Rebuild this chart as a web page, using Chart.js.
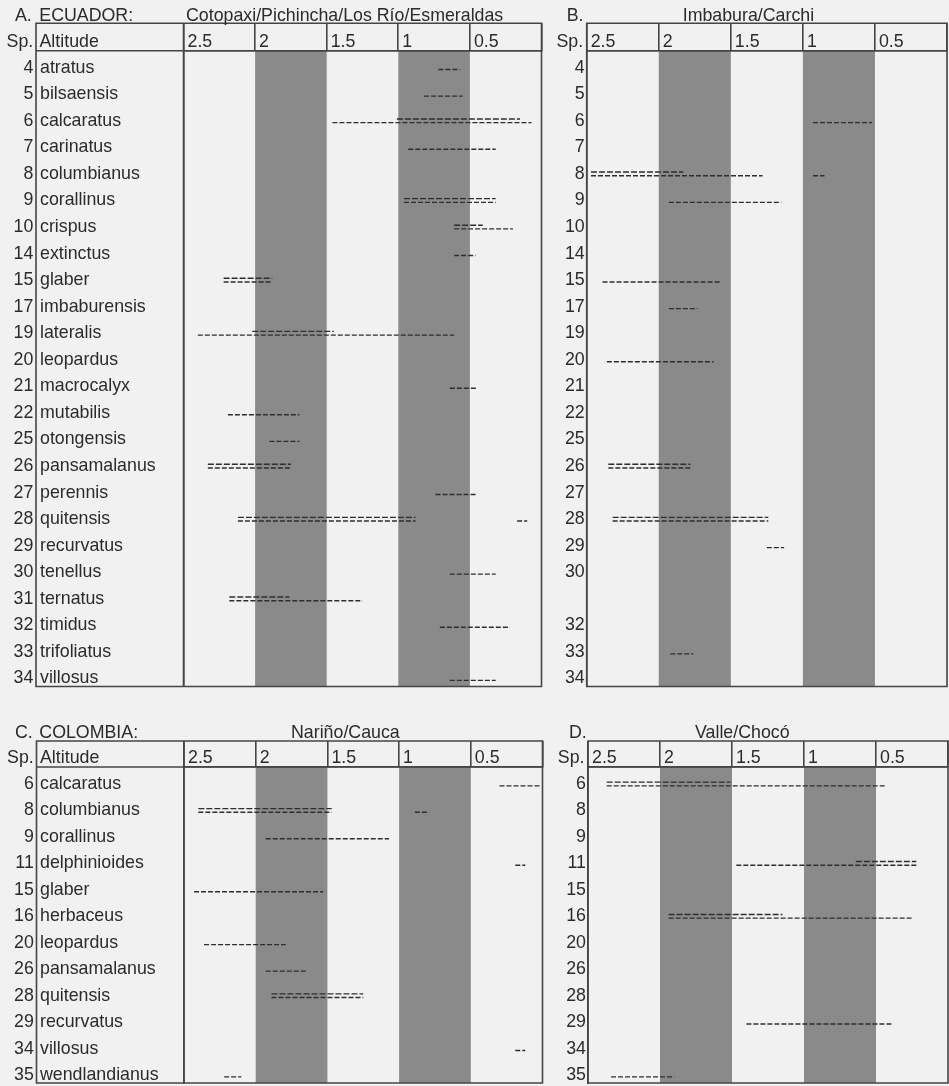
<!DOCTYPE html>
<html>
<head>
<meta charset="utf-8">
<script src="https://cdn.jsdelivr.net/npm/chart.js@4.4.1/dist/chart.umd.min.js"></script>
<style>
  html, body { margin: 0; padding: 0; background: #f1f1f1; }
  #wrap { position: relative; width: 949px; height: 1086px; overflow: hidden; background: #f1f1f1; }
  .pan { position: absolute; }
  canvas { display: block; }
</style>
</head>
<body>
<div id="wrap">
  <div class="pan" style="left:0;top:0;"><canvas id="cA" width="546" height="700"></canvas></div>
  <div class="pan" style="left:546px;top:0;"><canvas id="cB" width="403" height="700"></canvas></div>
  <div class="pan" style="left:0;top:715px;"><canvas id="cC" width="546" height="371"></canvas></div>
  <div class="pan" style="left:546px;top:715px;"><canvas id="cD" width="403" height="371"></canvas></div>
</div>
<script>
// ---------------- DATA ----------------
const altitudeTicks = [2.5, 2, 1.5, 1, 0.5];          // km
const shadedBands = [[2, 1.5], [1, 0.5]];             // km

const ecuadorNames = ['atratus','bilsaensis','calcaratus','carinatus','columbianus','corallinus','crispus','extinctus','glaber','imbaburensis','lateralis','leopardus','macrocalyx','mutabilis','otongensis','pansamalanus','perennis','quitensis','recurvatus','tenellus','ternatus','timidus','trifoliatus','villosus'];
const ecuadorNumbers = [4,5,6,7,8,9,10,14,15,17,19,20,21,22,25,26,27,28,29,30,31,32,33,34];
const imbaburaNumbers = [4,5,6,7,8,9,10,14,15,17,19,20,21,22,25,26,27,28,29,30,'',32,33,34];

const colombiaNames = ['calcaratus','columbianus','corallinus','delphinioides','glaber','herbaceus','leopardus','pansamalanus','quitensis','recurvatus','villosus','wendlandianus'];
const colombiaNumbers = [6,8,9,11,15,16,20,26,28,29,34,35];

// [species, upper altitude km, lower altitude km]
const rangesA = [
  ['atratus', 0.72, 0.57], ['bilsaensis', 0.82, 0.55], ['calcaratus', 1.46, 0.07],
  ['carinatus', 0.93, 0.32], ['corallinus', 0.96, 0.32], ['crispus', 0.61, 0.20],
  ['extinctus', 0.61, 0.46], ['glaber', 2.22, 1.88], ['lateralis', 2.40, 0.61],
  ['macrocalyx', 0.64, 0.45], ['mutabilis', 2.19, 1.69], ['otongensis', 1.90, 1.69],
  ['pansamalanus', 2.33, 1.75], ['perennis', 0.74, 0.46], ['quitensis', 2.12, 0.88],
  ['quitensis', 0.17, 0.10], ['tenellus', 0.64, 0.32], ['ternatus', 2.18, 1.25],
  ['timidus', 0.71, 0.22], ['villosus', 0.64, 0.32]
];
const denseA = [
  ['calcaratus', 1.01, 0.15], ['corallinus', 0.96, 0.32], ['crispus', 0.61, 0.41],
  ['glaber', 2.22, 1.88], ['lateralis', 2.02, 1.45], ['pansamalanus', 2.33, 1.75],
  ['quitensis', 2.12, 0.88], ['ternatus', 2.18, 1.76]
];
const rangesB = [
  ['calcaratus', 0.93, 0.52], ['columbianus', 2.47, 1.28], ['columbianus', 0.93, 0.85],
  ['corallinus', 1.93, 1.15], ['glaber', 2.39, 1.57], ['imbaburensis', 1.93, 1.73],
  ['leopardus', 2.36, 1.62], ['pansamalanus', 2.35, 1.78], ['quitensis', 2.32, 1.24],
  ['recurvatus', 1.25, 1.13], ['trifoliatus', 1.92, 1.76]
];
const denseB = [
  ['columbianus', 2.47, 1.83], ['pansamalanus', 2.35, 1.78], ['quitensis', 2.32, 1.24]
];
const rangesC = [
  ['calcaratus', 0.30, 0.02], ['columbianus', 2.40, 1.47], ['columbianus', 0.89, 0.79],
  ['corallinus', 1.93, 1.07], ['delphinioides', 0.19, 0.12], ['glaber', 2.43, 1.53],
  ['leopardus', 2.36, 1.79], ['pansamalanus', 1.93, 1.64], ['quitensis', 1.89, 1.25],
  ['villosus', 0.19, 0.12], ['wendlandianus', 2.22, 2.10]
];
const denseC = [
  ['columbianus', 2.40, 1.47], ['quitensis', 1.89, 1.25]
];
const rangesD = [
  ['calcaratus', 2.37, 0.43], ['delphinioides', 1.47, 0.22], ['herbaceus', 1.94, 0.24],
  ['recurvatus', 1.40, 0.38], ['wendlandianus', 2.34, 1.90]
];
const denseD = [
  ['calcaratus', 2.37, 1.51], ['delphinioides', 0.64, 0.22], ['herbaceus', 1.94, 1.15]
];

// ---------------- STYLE ----------------
const FAMILY = "'Liberation Sans', Arial, Helvetica, sans-serif";
const FSIZE = 17.8;
const TEXT = '#2b2b2b', FRAME = '#454545', BAND = '#8a8a8a', MARK = '#2e2e2e';

const panels = [
  { id: 'cA', letter: 'A.', country: 'ECUADOR:', region: 'Cotopaxi/Pichincha/Los Río/Esmeraldas',
    rows: ecuadorNames, yLabels: ecuadorNames, numbers: ecuadorNumbers, ranges: rangesA, dense: denseA,
    g: { pad: {left: 40, top: 23.3, right: 4.5, bottom: 13.5}, yWidth: 143.5, headerH: 27.4,
         yMin: -0.64, yMax: 23.3, boxLeft: 36, titleY: 21, letterX: 15, countryX: 39.3, regionX: 186,
         cross: 'far', altitude: true, spGap: 2.7 } },
  { id: 'cB', letter: 'B.', country: '', region: 'Imbabura/Carchi',
    rows: ecuadorNames, yLabels: imbaburaNumbers, numbers: null, ranges: rangesB, dense: denseB,
    g: { pad: {left: 10.7, top: 23.3, right: 2, bottom: 13.5}, yWidth: 30, headerH: 27.4,
         yMin: -0.64, yMax: 23.3, boxLeft: null, titleY: 21, letterX: 20.7, countryX: 0, regionX: 136.7,
         cross: 'near', altitude: false, spGap: 3.5 } },
  { id: 'cC', letter: 'C.', country: 'COLOMBIA:', region: 'Nariño/Cauca',
    rows: colombiaNames, yLabels: colombiaNames, numbers: colombiaNumbers, ranges: rangesC, dense: denseC,
    g: { pad: {left: 40, top: 26, right: 3.5, bottom: 3}, yWidth: 144, headerH: 26,
         yMin: -0.643, yMax: 11.3, boxLeft: 36.5, titleY: 23, letterX: 15, countryX: 39.3, regionX: 291,
         cross: 'far', altitude: true, spGap: 2.7 } },
  { id: 'cD', letter: 'D.', country: '', region: 'Valle/Chocó',
    rows: colombiaNames, yLabels: colombiaNumbers, numbers: null, ranges: rangesD, dense: denseD,
    g: { pad: {left: 12, top: 26, right: 1, bottom: 3}, yWidth: 30, headerH: 26,
         yMin: -0.643, yMax: 11.3, boxLeft: null, titleY: 23, letterX: 23, countryX: 0, regionX: 149,
         cross: 'near', altitude: false, spGap: 3.5 } }
];

function buildDatasets(rows, ranges, dense) {
  const ds = [];
  const add = (list, off, dash) => list.forEach(([sp, hi, lo]) => {
    const r = rows.indexOf(sp);
    ds.push({
      label: sp,
      data: [{x: hi, y: r + off}, {x: lo, y: r + off}],
      borderColor: MARK, borderWidth: 1.4, borderDash: dash, borderCapStyle: 'butt',
      pointRadius: 0, pointHoverRadius: 0, fill: false, tension: 0
    });
  });
  add(ranges, 0.07, [5, 2]);
  add(dense, -0.07, [6, 2]);
  return ds;
}

function tablePlugin(p) {
  const g = p.g;
  return {
    id: 'table',
    beforeDraw(chart) {
      const {ctx, chartArea: a, scales: {x}} = chart;
      ctx.save();
      ctx.fillStyle = BAND;
      shadedBands.forEach(([from, to]) => {
        const x1 = x.getPixelForValue(from), x2 = x.getPixelForValue(to);
        ctx.fillRect(Math.min(x1, x2), a.top, Math.abs(x2 - x1), a.bottom - a.top);
      });
      ctx.restore();
    },
    afterDraw(chart) {
      const {ctx, chartArea: a, scales: {x, y}} = chart;
      const top = a.top - g.headerH;
      const left = g.boxLeft === null ? a.left : g.boxLeft;
      ctx.save();
      ctx.strokeStyle = FRAME;
      ctx.lineWidth = 1.6;
      ctx.beginPath();
      ctx.rect(left, top, a.right - left, a.bottom - top);
      ctx.moveTo(left, a.top); ctx.lineTo(a.right, a.top);
      ctx.moveTo(a.left, top); ctx.lineTo(a.left, a.bottom);
      ctx.stroke();

      ctx.fillStyle = TEXT;
      ctx.font = FSIZE + 'px ' + FAMILY;
      ctx.textBaseline = 'alphabetic';
      const hb = a.top - 3.8;
      ctx.textAlign = 'left';
      altitudeTicks.forEach(v => ctx.fillText(String(v), x.getPixelForValue(v) + 4, hb));
      if (g.altitude) ctx.fillText('Altitude', left + 3.5, hb);
      ctx.textAlign = 'right';
      ctx.fillText('Sp.', left - g.spGap, hb);
      if (p.numbers) {
        ctx.textBaseline = 'middle';
        p.numbers.forEach((n, i) => ctx.fillText(String(n), left - 2.7, y.getPixelForValue(i)));
      }
      ctx.textAlign = 'left';
      ctx.textBaseline = 'alphabetic';
      ctx.fillText(p.letter, g.letterX, g.titleY);
      if (p.country) ctx.fillText(p.country, g.countryX, g.titleY);
      ctx.fillText(p.region, g.regionX, g.titleY);
      ctx.restore();
    }
  };
}

panels.forEach(p => {
  const g = p.g;
  new Chart(document.getElementById(p.id), {
    type: 'line',
    data: { datasets: buildDatasets(p.rows, p.ranges, p.dense) },
    plugins: [tablePlugin(p)],
    options: {
      responsive: false,
      animation: false,
      events: [],
      layout: { padding: g.pad },
      plugins: { legend: { display: false }, tooltip: { enabled: false } },
      scales: {
        x: {
          type: 'linear', position: 'top', min: 0, max: 2.5, reverse: true,
          ticks: { display: false, stepSize: 0.5 },
          grid: { display: true, drawOnChartArea: false, drawTicks: true, tickLength: g.headerH,
                  color: FRAME, lineWidth: 1.6 },
          border: { display: true, color: FRAME, width: 1.6 },
          afterFit: s => { s.height = g.headerH; s.paddingLeft = 0; s.paddingRight = 0; }
        },
        y: {
          type: 'linear', min: g.yMin, max: g.yMax, reverse: true,
          afterBuildTicks: s => { s.ticks = p.rows.map((_, i) => ({ value: i })); },
          ticks: { autoSkip: false, padding: 2, crossAlign: g.cross, color: TEXT,
                   font: { family: FAMILY, size: FSIZE },
                   callback: (v, i) => String(p.yLabels[i]) },
          grid: { display: false, drawTicks: false },
          border: { display: true, color: FRAME, width: 1.6 },
          afterFit: s => { s.width = g.yWidth; s.paddingTop = 0; s.paddingBottom = 0; }
        }
      }
    }
  });
});
</script>
</body>
</html>
